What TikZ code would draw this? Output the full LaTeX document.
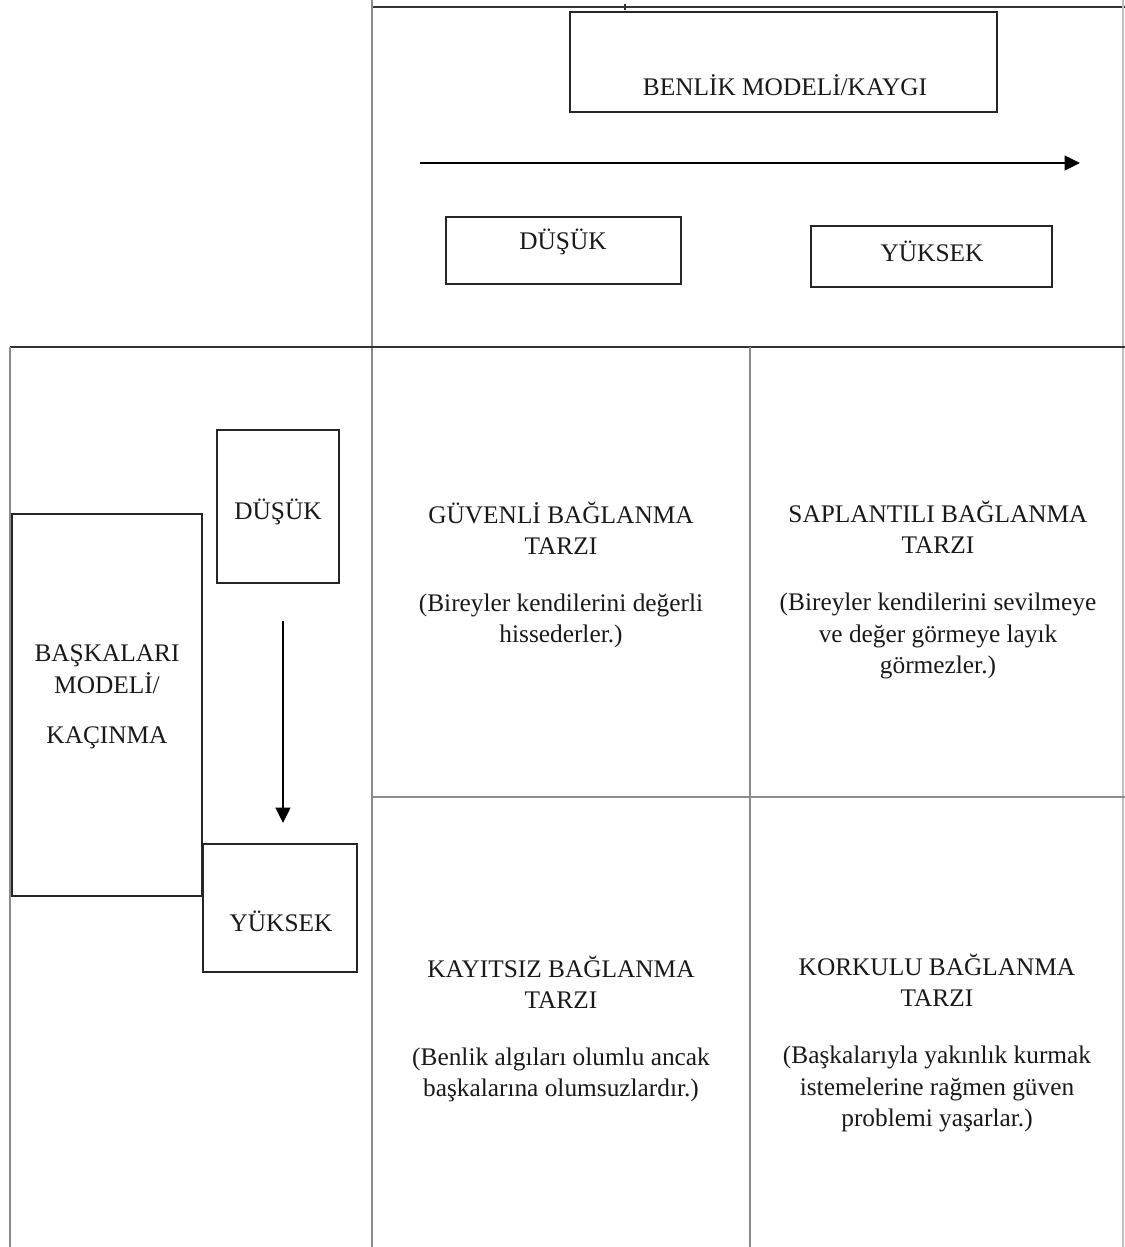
\documentclass[tikz,border=0pt]{standalone}
\usepackage{fontspec}
\setmainfont{Liberation Serif}
\usetikzlibrary{arrows.meta}
\begin{document}
\begin{tikzpicture}[x=0.75pt,y=-0.75pt,
  gridline/.style={draw=black!45, line width=1.2pt},
  darkline/.style={draw=black!80, line width=1.2pt},
  box/.style={draw=black!85, line width=1.1pt, inner sep=0pt, fill=none},
  txt/.style={inner sep=0pt, align=center, text=black!90, font=\fontsize{19}{23.6}\selectfont},
  arr/.style={draw=black, line width=1.2pt, -{Triangle[length=11.5pt,width=11pt]}}
]
\useasboundingbox (0,0) rectangle (1125,1247);
% grid lines
\draw[darkline] (372,7) -- (1125,7);
\draw[darkline] (625,4) -- (625,10);
\draw[gridline] (372,0) -- (372,1247);
\draw[gridline, draw=black!25] (1123,0) -- (1123,1247);
\draw[darkline] (10,347) -- (1125,347);
\draw[gridline] (10,347) -- (10,1247);
\draw[gridline] (750,347) -- (750,1247);
\draw[gridline] (372,797) -- (1125,797);
% boxes
\node[box, minimum width=320.25pt, minimum height=75pt] (benlikbox) at (783.5,62) {};
\node[txt] (benlik) at (785,85) {BENLİK MODELİ/KAYGI};
\node[box, minimum width=176.25pt, minimum height=50.25pt] (dusukTbox) at (563.5,250.5) {};
\node[txt] (dusukT) at (563,242) {DÜŞÜK};
\node[box, minimum width=180.75pt, minimum height=45.75pt] (yuksekTbox) at (931.5,256.5) {};
\node[txt] (yuksekT) at (932,251) {YÜKSEK};
\node[box, minimum width=91.5pt, minimum height=114.75pt] (dusukLbox) at (278,506.5) {};
\node[txt] (dusukL) at (278,512) {DÜŞÜK};
\node[box, minimum width=142.5pt, minimum height=286.5pt] (baskabox) at (107,705) {};
\node[txt] (baska) at (107,697) {BAŞKALARI\\MODELİ/\\[14pt]KAÇINMA};
\node[box, minimum width=115.5pt, minimum height=96pt] (yuksekLbox) at (280,908) {};
\node[txt] (yuksekL) at (281,921) {YÜKSEK};
% arrows
\coordinate (hA) at (420,163);
\coordinate (hB) at (1080,163);
\draw[arr] (hA) -- (hB);
\coordinate (vA) at (283,621);
\coordinate (vB) at (283,823);
\draw[arr] (vA) -- (vB);
% quadrants
\node[txt] (guvenli) at (561,575) {GÜVENLİ BAĞLANMA\\TARZI\\[19pt](Bireyler kendilerini değerli\\hissederler.)};
\node[txt] (saplantili) at (938,590) {SAPLANTILI BAĞLANMA\\TARZI\\[19pt](Bireyler kendilerini sevilmeye\\ve değer görmeye layık\\görmezler.)};
\node[txt] (kayitsiz) at (561,1029) {KAYITSIZ BAĞLANMA\\TARZI\\[19pt](Benlik algıları olumlu ancak\\başkalarına olumsuzlardır.)};
\node[txt] (korkulu) at (937,1043) {KORKULU BAĞLANMA\\TARZI\\[19pt](Başkalarıyla yakınlık kurmak\\istemelerine rağmen güven\\problemi yaşarlar.)};
\end{tikzpicture}
\end{document}
